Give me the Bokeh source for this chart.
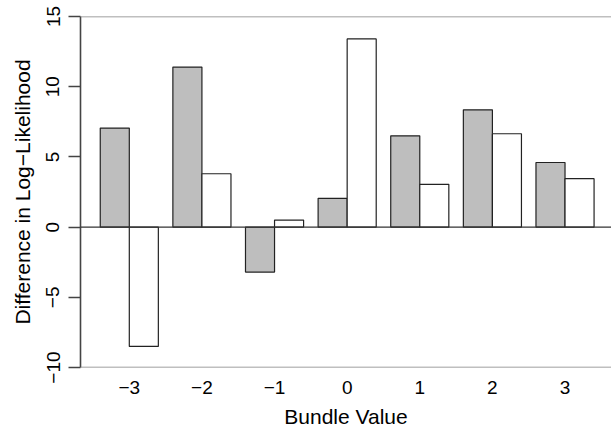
from bokeh.plotting import figure
from bokeh.models import FixedTicker, Span, Range1d
from bokeh.embed import file_html
from bokeh.resources import INLINE

# Data
bundle_values = [-3, -2, -1, 0, 1, 2, 3]
bundle_labels = ["\u22123", "\u22122", "\u22121", "0", "1", "2", "3"]
series_gray = [7.05, 11.4, -3.2, 2.05, 6.5, 8.35, 4.6]
series_white = [-8.5, 3.8, 0.5, 13.4, 3.05, 6.65, 3.45]
y_ticks = [-10, -5, 0, 5, 10, 15]
y_tick_labels = ["\u221210", "\u22125", "0", "5", "10", "15"]

# R barplot-like geometry: bar width 1, space between groups 0.5
centers = [1.5 + 2.5 * i for i in range(len(bundle_values))]
x_gray = [c - 0.5 for c in centers]
x_white = [c + 0.5 for c in centers]

FONT = "Liberation Sans"

p = figure(width=611, height=430, output_backend="svg", toolbar_location=None,
           x_range=Range1d(-0.18, 18.10), y_range=Range1d(-10, 15),
           min_border_left=80, min_border_right=0, min_border_top=16, min_border_bottom=61)
p.xgrid.visible = False
p.ygrid.visible = False
p.outline_line_color = None
p.background_fill_color = "white"
p.border_fill_color = "white"

p.vbar(x=x_gray, top=series_gray, bottom=0, width=1.0, fill_color="#bebebe",
       line_color="#222222", line_width=1.2)
p.vbar(x=x_white, top=series_white, bottom=0, width=1.0, fill_color="white",
       line_color="#222222", line_width=1.2)

for yv, col, w in [(15, "#808080", 1.6), (-10, "#808080", 1.6), (0, "#333333", 1.2)]:
    p.add_layout(Span(location=yv, dimension="width", line_color=col, line_width=w))

# Y axis
ya = p.yaxis[0]
ya.ticker = FixedTicker(ticks=y_ticks)
ya.major_label_overrides = {t: l for t, l in zip(y_ticks, y_tick_labels)}
ya.major_label_orientation = "vertical"
ya.major_tick_out = 12
ya.major_tick_in = 0
ya.minor_tick_out = 0
ya.minor_tick_in = 0
ya.axis_line_color = "#444444"
ya.axis_line_width = 1.6
ya.major_tick_line_color = "#444444"
ya.major_tick_line_width = 1.4
ya.major_label_text_font = FONT
ya.major_label_text_font_size = "19px"
ya.major_label_text_color = "black"
ya.major_label_standoff = 9
ya.axis_label = "Difference in Log\u2212Likelihood"
ya.axis_label_text_font = FONT
ya.axis_label_text_font_size = "21px"
ya.axis_label_text_font_style = "normal"
ya.axis_label_text_color = "black"
ya.axis_label_standoff = 10

# X axis
xa = p.xaxis[0]
xa.ticker = FixedTicker(ticks=centers)
xa.major_label_overrides = {c: l for c, l in zip(centers, bundle_labels)}
xa.axis_line_color = None
xa.major_tick_line_color = None
xa.minor_tick_line_color = None
xa.major_label_text_font = FONT
xa.major_label_text_font_size = "19px"
xa.major_label_text_color = "black"
xa.major_label_standoff = 7
xa.axis_label = "Bundle Value"
xa.axis_label_text_font = FONT
xa.axis_label_text_font_size = "21px"
xa.axis_label_text_font_style = "normal"
xa.axis_label_text_color = "black"
xa.axis_label_standoff = 8

open("out.html", "w").write(file_html(p, INLINE))
